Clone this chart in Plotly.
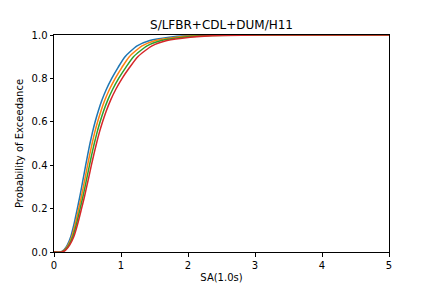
import plotly.graph_objects as go

title = "S/LFBR+CDL+DUM/H11"
x_label = "SA(1.0s)"
y_label = "Probability of Exceedance"

prob = [0, 0, 0.01, 0.033, 0.07, 0.13, 0.2, 0.25, 0.3, 0.35, 0.4, 0.45, 0.5, 0.55, 0.6,
        0.65, 0.7, 0.75, 0.8, 0.85, 0.9, 0.95, 0.975, 0.99, 0.997, 1.0, 1.0]

sa_blue = [0, 0.10, 0.15, 0.20, 0.25, 0.30, 0.348, 0.382, 0.413, 0.443, 0.473, 0.504, 0.537, 0.573, 0.614,
           0.661, 0.716, 0.782, 0.862, 0.955, 1.06, 1.24, 1.43, 1.72, 2.0, 2.6, 5.0]
sa_orange = [0, 0.106, 0.159, 0.212, 0.265, 0.318, 0.369, 0.405, 0.438, 0.470, 0.501, 0.534, 0.569, 0.607, 0.651,
             0.701, 0.759, 0.829, 0.914, 1.012, 1.124, 1.314, 1.516, 1.823, 2.12, 2.76, 5.0]
sa_green = [0, 0.112, 0.168, 0.224, 0.28, 0.336, 0.39, 0.428, 0.463, 0.496, 0.53, 0.564, 0.601, 0.642, 0.688,
            0.74, 0.802, 0.876, 0.965, 1.07, 1.187, 1.389, 1.602, 1.926, 2.24, 2.91, 5.0]
sa_red = [0, 0.118, 0.177, 0.236, 0.295, 0.354, 0.411, 0.451, 0.487, 0.523, 0.558, 0.595, 0.634, 0.676, 0.725,
          0.78, 0.845, 0.923, 1.017, 1.127, 1.251, 1.463, 1.687, 2.03, 2.36, 3.07, 5.0]

series = [
    (sa_blue, "#1f77b4"),
    (sa_orange, "#ff7f0e"),
    (sa_green, "#2ca02c"),
    (sa_red, "#d62728"),
]

x_ticks = [0, 1, 2, 3, 4, 5]
y_ticks = [0.0, 0.2, 0.4, 0.6, 0.8, 1.0]

fig = go.Figure()
for xs, color in series:
    fig.add_trace(go.Scatter(x=xs, y=prob, mode="lines",
                             line=dict(color=color, width=1.5, shape="spline", smoothing=0.6),
                             showlegend=False))

axis_common = dict(
    showline=True, linecolor="black", linewidth=1, mirror=True,
    ticks="outside", ticklen=3.5, tickwidth=1, tickcolor="black",
    showgrid=False, zeroline=False, automargin=False,
    tickfont=dict(family="DejaVu Sans", size=10, color="black"),
)

fig.update_layout(
    width=432, height=288,
    margin=dict(l=54, r=43, t=35, b=36, autoexpand=False),
    paper_bgcolor="white", plot_bgcolor="white",
    font=dict(family="DejaVu Sans", size=10, color="black"),
    title=dict(text=title, x=0.5, xref="paper", xanchor="center",
               y=1 - 25 / 288, yref="container", yanchor="middle",
               font=dict(family="DejaVu Sans", size=12, color="black")),
    xaxis=dict(range=[0, 5], tickvals=x_ticks, ticktext=[str(v) for v in x_ticks],
               title=dict(text=x_label, standoff=4,
                          font=dict(family="DejaVu Sans", size=10, color="black")),
               **axis_common),
    yaxis=dict(range=[0, 1], tickvals=y_ticks, ticktext=[f"{v:.1f}" for v in y_ticks],
               title=dict(text=y_label, standoff=6,
                          font=dict(family="DejaVu Sans", size=10, color="black")),
               **axis_common),
)

fig.write_html("out.html")
